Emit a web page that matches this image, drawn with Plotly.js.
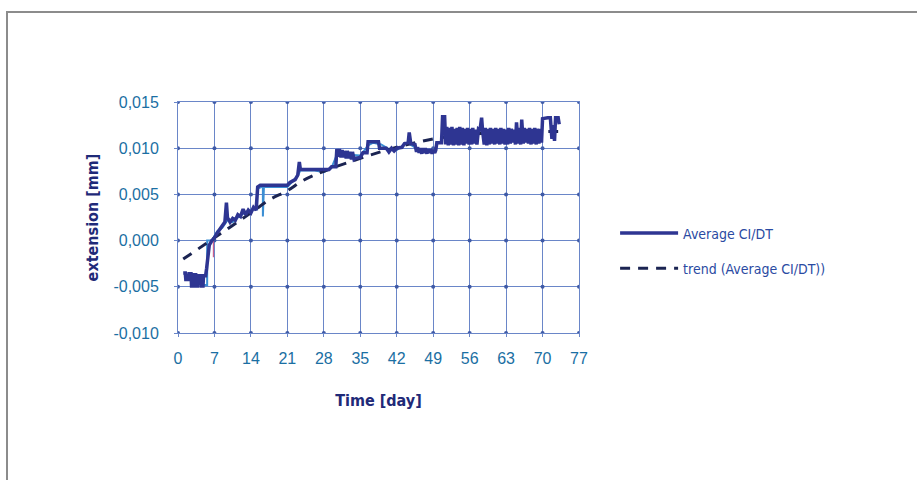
<!DOCTYPE html>
<html>
<head>
<meta charset="utf-8">
<script src="https://cdn.plot.ly/plotly-3.0.1.min.js"></script>
<style>
  html, body { margin: 0; padding: 0; background: #ffffff; }
  #frame { position: absolute; left: 6px; top: 11px; width: 930px; height: 480px;
           border-left: 2px solid #8c8c8c; border-top: 2px solid #8c8c8c; box-sizing: border-box; }
  #chart { position: absolute; left: 0; top: 0; width: 917px; height: 480px; }
</style>
</head>
<body>
<div id="frame"></div>
<div id="chart"></div>
<script>
// ---- data ----
const xTicks = [0, 7, 14, 21, 28, 35, 42, 49, 56, 63, 70, 77];
const yTicks = [-0.010, -0.005, 0.000, 0.005, 0.010, 0.015];
const yTickText = ['-0,010', '-0,005', '0,000', '0,005', '0,010', '0,015'];

// Average CI/DT (main noisy series)
const avgDays = [1.0,1.4,1.5,2.0,2.1,2.5,2.6,2.9,3.0,3.4,3.5,3.8,3.9,4.4,4.5,4.8,4.9,5.3,5.5,6.0,6.5,7.0,7.5,8.0,8.5,9.0,9.3,9.5,10.0,10.5,11.0,11.5,12.0,12.5,13.0,13.5,14.0,14.5,15.0,15.3,15.8,16.2,16.4,21.0,21.5,22.5,23.0,23.3,23.5,29.0,29.5,30.3,30.5,30.8,31.0,31.3,31.5,31.8,32.0,32.3,32.5,32.8,33.0,33.3,33.5,33.8,34.0,35.0,35.5,36.3,36.5,38.5,38.7,40.0,40.5,41.0,41.5,42.0,43.0,43.5,44.2,44.4,44.7,45.5,45.8,46.0,46.3,46.5,46.8,47.0,47.3,47.5,47.8,48.0,48.3,48.5,48.8,49.0,49.3,49.5,49.7,50.6,50.8,51.2,51.4,51.6,51.9,52.1,52.4,52.6,52.9,53.1,53.4,53.6,53.9,54.1,54.4,54.6,54.9,55.1,55.4,55.6,55.9,56.1,56.4,56.6,56.9,57.1,57.4,57.7,58.0,58.3,58.5,58.8,59.0,59.3,59.5,59.8,60.0,60.3,60.5,60.8,61.0,61.3,61.5,61.8,62.0,62.3,62.5,62.8,63.0,63.3,63.5,63.8,64.0,64.3,64.5,64.8,65.0,65.3,65.5,65.8,66.0,66.3,66.5,66.8,67.0,67.3,67.5,67.8,68.0,68.3,68.5,68.8,69.0,69.3,69.5,69.8,70.0,70.5,71.0,71.5,71.8,72.0,72.3,72.5,73.0,73.2];
const avgVals = [-0.0035,-0.0035,-0.0042,-0.0042,-0.0036,-0.0036,-0.0049,-0.0049,-0.0037,-0.0037,-0.0049,-0.0049,-0.0038,-0.0038,-0.0049,-0.0049,-0.0038,-0.0038,-0.0030,-0.0005,0.0000,0.0003,0.0008,0.0012,0.0015,0.0020,0.0041,0.0025,0.0020,0.0024,0.0022,0.0028,0.0026,0.0034,0.0028,0.0033,0.0030,0.0036,0.0033,0.0058,0.0060,0.0060,0.0060,0.0060,0.0063,0.0066,0.0071,0.0085,0.0077,0.0077,0.0080,0.0080,0.0099,0.0091,0.0099,0.0090,0.0098,0.0090,0.0097,0.0089,0.0097,0.0089,0.0096,0.0088,0.0096,0.0088,0.0089,0.0090,0.0095,0.0095,0.0107,0.0107,0.0100,0.0100,0.0096,0.0100,0.0097,0.0100,0.0101,0.0105,0.0106,0.0117,0.0105,0.0104,0.0096,0.0101,0.0095,0.0100,0.0094,0.0100,0.0095,0.0100,0.0094,0.0099,0.0095,0.0099,0.0094,0.0098,0.0095,0.0098,0.0106,0.0106,0.0134,0.0134,0.0104,0.0123,0.0103,0.0122,0.0104,0.0123,0.0103,0.0121,0.0104,0.0122,0.0103,0.0123,0.0104,0.0122,0.0103,0.0121,0.0105,0.0122,0.0104,0.0121,0.0104,0.0122,0.0105,0.0120,0.0104,0.0121,0.0120,0.0133,0.0118,0.0104,0.0122,0.0103,0.0121,0.0104,0.0122,0.0105,0.0121,0.0104,0.0122,0.0105,0.0121,0.0104,0.0122,0.0105,0.0121,0.0104,0.0120,0.0104,0.0122,0.0105,0.0121,0.0106,0.0120,0.0104,0.0128,0.0105,0.0122,0.0104,0.0131,0.0105,0.0122,0.0106,0.0121,0.0105,0.0122,0.0104,0.0121,0.0105,0.0122,0.0104,0.0121,0.0105,0.0121,0.0106,0.0132,0.0133,0.0133,0.0133,0.0110,0.0125,0.0108,0.0133,0.0133,0.0126];

// lighter overlay of the same measurement
const lightDays = [5.0,5.6,5.6,6.5,7.5,8.5,9.5,10.5,11.5,12.5,13.5,14.5,15.2,15.2,16.0,16.3,16.3,16.5,21.0,22.0,23.0,23.5,26.0,28.0,29.5,30.5,31.5,33.0,35.0,36.5,37.5,39.0,40.5,42.0,43.0,44.0,45.5,47.0,49.0];
const lightVals = [-0.0048,-0.0048,0.0000,0.0000,0.0010,0.0014,0.0022,0.0020,0.0025,0.0029,0.0031,0.0034,0.0034,0.0056,0.0058,0.0058,0.0026,0.0058,0.0058,0.0064,0.0070,0.0076,0.0076,0.0074,0.0079,0.0093,0.0096,0.0093,0.0092,0.0103,0.0106,0.0104,0.0099,0.0098,0.0102,0.0106,0.0101,0.0097,0.0097];

// small reddish excursion
const pinkDays = [6.8, 6.8];
const pinkVals = [0.0002, -0.0018];

// trend (Average CI/DT)
const trendDays = [1, 7, 14, 17.5, 21, 24, 28, 35, 42, 49, 56, 63, 70, 73];
const trendVals = [-0.0020, 0.0003, 0.0030, 0.0044, 0.0054, 0.0065, 0.0075, 0.0089, 0.0101, 0.0110, 0.0115, 0.0117, 0.0118, 0.0118];

const seriesNames = ['Average CI/DT', 'trend (Average CI/DT))'];

// grid-intersection dots built from the tick arrays
const dotX = [], dotY = [];
xTicks.forEach(x => yTicks.forEach(y => { dotX.push(x); dotY.push(y); }));

const gridCol = '#6a86c8';
const traces = [
  { x: dotX, y: dotY, mode: 'markers', marker: { size: 4, color: '#3f5aa6' },
    showlegend: false, hoverinfo: 'skip' },
  { x: lightDays, y: lightVals, mode: 'lines', line: { color: '#3c8fd4', width: 2 },
    showlegend: false },
  { x: pinkDays, y: pinkVals, mode: 'lines', line: { color: '#c9608e', width: 1.2 },
    showlegend: false },
  { x: trendDays, y: trendVals, mode: 'lines', name: seriesNames[1], legendgroup: 'b',
    legendrank: 2, line: { color: '#1b2452', width: 3, dash: '10px,8px', shape: 'spline' } },
  { x: avgDays, y: avgVals, mode: 'lines', name: seriesNames[0], legendgroup: 'a',
    legendrank: 1, line: { color: '#2e3592', width: 3.5 } }
];

const tickFont = { family: 'Liberation Sans, Arial, sans-serif', size: 16, color: '#1b6fa3' };
const titleFont = { family: 'Liberation Sans Narrow, DejaVu Sans Condensed, Liberation Sans, sans-serif',
                    size: 16, color: '#1f2a78', weight: 'bold' };

const layout = {
  width: 917, height: 480,
  margin: { l: 178, r: 338, t: 102, b: 147 },
  paper_bgcolor: 'rgba(0,0,0,0)', plot_bgcolor: '#ffffff',
  separators: ',.',
  showlegend: true,
  legend: {
    x: 1.09, y: 0.50, xanchor: 'left', yanchor: 'top',
    itemwidth: 58, tracegroupgap: 14, traceorder: 'grouped',
    font: { family: 'Liberation Sans Narrow, DejaVu Sans Condensed, Liberation Sans, sans-serif', size: 14, color: '#2a4aa2' },
    bgcolor: 'rgba(0,0,0,0)'
  },
  xaxis: {
    range: [0, 77], tickvals: xTicks, ticktext: xTicks.map(String),
    showgrid: true, gridcolor: gridCol, gridwidth: 1,
    zeroline: false, showline: true, linecolor: gridCol, mirror: true,
    ticks: 'outside', ticklen: 3, tickcolor: gridCol,
    tickfont: tickFont, ticklabelstandoff: 8,
    title: { text: 'Time [day]', font: titleFont, standoff: 28 }
  },
  yaxis: {
    range: [-0.010, 0.015], tickvals: yTicks, ticktext: yTickText,
    showgrid: true, gridcolor: gridCol, gridwidth: 1,
    zeroline: false, showline: true, linecolor: gridCol, mirror: true,
    ticks: 'outside', ticklen: 3, tickcolor: gridCol,
    tickfont: tickFont, ticklabelstandoff: 12,
    title: { text: 'extension [mm]', font: titleFont, standoff: 10 }
  }
};

Plotly.newPlot('chart', traces, layout, { displayModeBar: false, staticPlot: true });
</script>
</body>
</html>
